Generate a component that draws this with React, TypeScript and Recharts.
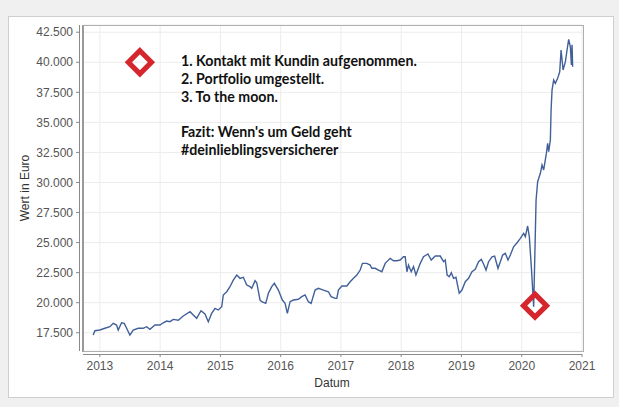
import React from "react";
import { ComposedChart, Line, XAxis, YAxis, CartesianGrid, ReferenceDot } from "recharts";

const years = [
  2012.889, 2012.917, 2013.0, 2013.083, 2013.166, 2013.221, 2013.277, 2013.304, 2013.36, 2013.404,
  2013.444, 2013.498, 2013.553, 2013.636, 2013.719, 2013.776, 2013.831, 2013.914, 2013.997, 2014.052,
  2014.108, 2014.163, 2014.218, 2014.301, 2014.384, 2014.495, 2014.55, 2014.606, 2014.678, 2014.744,
  2014.799, 2014.855, 2014.91, 2014.965, 2015.022, 2015.048, 2015.105, 2015.159, 2015.214, 2015.271,
  2015.326, 2015.38, 2015.437, 2015.492, 2015.52, 2015.575, 2015.603, 2015.658, 2015.686, 2015.752,
  2015.796, 2015.852, 2015.895, 2015.962, 2016.028, 2016.073, 2016.111, 2016.156, 2016.211, 2016.294,
  2016.35, 2016.405, 2016.46, 2016.505, 2016.571, 2016.626, 2016.709, 2016.792, 2016.837, 2016.904,
  2016.932, 2016.958, 2017.015, 2017.098, 2017.153, 2017.208, 2017.264, 2017.319, 2017.357, 2017.43,
  2017.485, 2017.513, 2017.568, 2017.623, 2017.679, 2017.734, 2017.817, 2017.872, 2017.929, 2017.983,
  2018.038, 2018.066, 2018.095, 2018.121, 2018.166, 2018.204, 2018.244, 2018.316, 2018.37, 2018.444,
  2018.498, 2018.565, 2018.648, 2018.703, 2018.731, 2018.762, 2018.798, 2018.831, 2018.869, 2018.909,
  2018.963, 2019.008, 2019.063, 2019.118, 2019.174, 2019.229, 2019.284, 2019.329, 2019.367, 2019.407,
  2019.45, 2019.507, 2019.55, 2019.606, 2019.645, 2019.683, 2019.728, 2019.772, 2019.811, 2019.865,
  2019.922, 2019.977, 2020.032, 2020.06, 2020.098, 2020.126, 2020.159, 2020.198, 2020.238, 2020.264,
  2020.309, 2020.337, 2020.364, 2020.409, 2020.43, 2020.447, 2020.475, 2020.487, 2020.503, 2020.53,
  2020.558, 2020.596, 2020.63, 2020.653, 2020.686, 2020.724, 2020.752, 2020.779, 2020.807, 2020.824,
  2020.835, 2020.845,
];

const values = [
  17310, 17670, 17725, 17870, 18000, 18280, 18140, 17725, 18330, 18280,
  17870, 17310, 17725, 17870, 17870, 18000, 17780, 18140, 18140, 18330,
  18470, 18420, 18610, 18540, 18890, 19250, 18970, 18700, 19330, 19055,
  18415, 19110, 19530, 19390, 19660, 20640, 20910, 21330, 21880, 22300,
  22025, 22110, 21470, 21330, 21190, 21830, 21660, 20220, 20080, 19945,
  20780, 21330, 21610, 21050, 20220, 19945, 19110, 20080, 20220, 20280,
  20500, 20640, 20080, 19945, 21050, 21190, 21050, 20910, 20500, 20360,
  20360, 21050, 21385, 21385, 21740, 22025, 22300, 22715, 23270, 23270,
  23130, 22860, 22860, 22715, 22575, 23270, 23690, 23490, 23490, 23550,
  23820, 23820, 22575, 23130, 22575, 23000, 22300, 23270, 23820, 24050,
  23550, 23880, 23880, 23410, 23550, 22300, 22160, 22490, 22025, 22110,
  20780, 21050, 21740, 22025, 22575, 22770, 23410, 23600, 23215, 22715,
  23410, 23820, 23880, 22860, 23410, 23960, 24100, 23550, 23960, 24650,
  24990, 25350, 25770, 25490, 26380, 25490, 23000, 19660, 28540, 30060,
  30760, 31450, 31040, 32420, 33260, 32560, 33530, 36030, 37690, 38520,
  38250, 38660, 39210, 41020, 39360, 40050, 41020, 41910, 41290, 39770,
  41460, 39630,
];

const xTicks = [2013, 2014, 2015, 2016, 2017, 2018, 2019, 2020, 2021];
const yTicks = [17500, 20000, 22500, 25000, 27500, 30000, 32500, 35000, 37500, 40000, 42500];

const markerYears = [2013.664, 2020.22];
const markerValues = [40000, 19750];

const noteLines = [
  "1. Kontakt mit Kundin aufgenommen.",
  "2. Portfolio umgestellt.",
  "3. To the moon.",
  "",
  "Fazit: Wenn's um Geld geht",
  "#deinlieblingsversicherer",
];

const data = years.map((t, i) => ({ t, v: values[i] }));

const fmt = (v: number) => {
  const k = Math.floor(v / 1000);
  const r = String(v % 1000).padStart(3, "0");
  return `${k}.${r}`;
};

const tickFont = "'Liberation Sans', Arial, sans-serif";

const YTick = (props: any) => {
  const { x, y, payload } = props;
  return (
    <g>
      <line x1={x - 7} x2={x - 4} y1={y} y2={y} stroke="#8a8a8a" strokeWidth={1} />
      <text x={x - 10} y={y} dy={4.2} textAnchor="end" fontSize={12} fill="#555" fontFamily={tickFont}>
        {fmt(payload.value)}
      </text>
    </g>
  );
};

const XTick = (props: any) => {
  const { x, y, payload } = props;
  return (
    <g>
      <line x1={x} x2={x} y1={y + 3} y2={y + 6} stroke="#8a8a8a" strokeWidth={1} />
      <text x={x} y={y + 19} textAnchor="middle" fontSize={12} fill="#555" fontFamily={tickFont}>
        {payload.value}
      </text>
    </g>
  );
};

const Diamond = (props: any) => {
  const { cx, cy } = props;
  const h = 11.5;
  const pts = `${cx},${cy - h} ${cx + h},${cy} ${cx},${cy + h} ${cx - h},${cy}`;
  return <polygon points={pts} fill="none" stroke="#d4262c" strokeWidth={5.2} strokeLinejoin="miter" />;
};

export default function App() {
  return (
    <div style={{ position: "fixed", left: 0, top: 0, width: 619, height: 407, background: "#f0f0f0", overflow: "hidden" }}>
      <div
        style={{
          position: "absolute",
          left: 8,
          top: 16,
          width: 604,
          height: 380,
          background: "#fff",
          border: "1px solid #cfcfcf",
        }}
      />
      <div style={{ position: "absolute", left: 0, top: 0 }}>
        <ComposedChart width={619} height={407} data={data} margin={{ top: 25, right: 37, bottom: 26, left: 0 }}>
          <CartesianGrid stroke="#ececec" strokeWidth={1} />
          <XAxis
            dataKey="t"
            type="number"
            domain={[2012.72, 2021.0]}
            ticks={xTicks}
            allowDataOverflow
            axisLine={false}
            tickLine={false}
            tickSize={0}
            tickMargin={0}
            height={30}
            tick={<XTick />}
            interval={0}
          />
          <YAxis
            dataKey="v"
            type="number"
            domain={[15980, 43100]}
            ticks={yTicks}
            allowDataOverflow
            axisLine={false}
            tickLine={false}
            tickSize={0}
            tickMargin={0}
            width={83}
            tick={<YTick />}
            interval={0}
          />
          <Line
            dataKey="v"
            type="linear"
            stroke="#41609a"
            strokeWidth={1.4}
            dot={false}
            isAnimationActive={false}
          />
          {markerYears.map((t, i) => (
            <ReferenceDot key={i} x={t} y={markerValues[i]} r={10} ifOverflow="visible" shape={(p: any) => <Diamond {...p} />} />
          ))}
        </ComposedChart>
      </div>
      {/* plot frame */}
      <div
        style={{
          position: "absolute",
          left: 82,
          top: 25,
          width: 499,
          height: 325,
          borderLeft: "2px solid #9a9a9a",
          borderTop: "1px solid #b0b0b0",
          borderRight: "1px solid #b0b0b0",
          borderBottom: "1px solid #b0b0b0",
          pointerEvents: "none",
        }}
      />
      {/* offset axis lines */}
      <div style={{ position: "absolute", left: 78.5, top: 25, width: 1, height: 326, background: "#8a8a8a" }} />
      <div style={{ position: "absolute", left: 83, top: 354, width: 499, height: 1, background: "#8a8a8a" }} />
      <svg width={619} height={407} style={{ position: "absolute", left: 0, top: 0, pointerEvents: "none" }}>
        <text x={332} y={387} textAnchor="middle" fontSize={12} fill="#333" fontFamily={tickFont}>
          Datum
        </text>
        <text
          x={0}
          y={0}
          transform="translate(29,188) rotate(-90)"
          textAnchor="middle"
          fontSize={12}
          fill="#333"
          fontFamily={tickFont}
        >
          Wert in Euro
        </text>
        {noteLines.map((s, i) => (
          <text key={i} x={181} y={66 + i * 17.8} fontSize={14.2} fontWeight={700} fill="#111" fontFamily="Lato, 'Open Sans', sans-serif">
            {s}
          </text>
        ))}
      </svg>
    </div>
  );
}
